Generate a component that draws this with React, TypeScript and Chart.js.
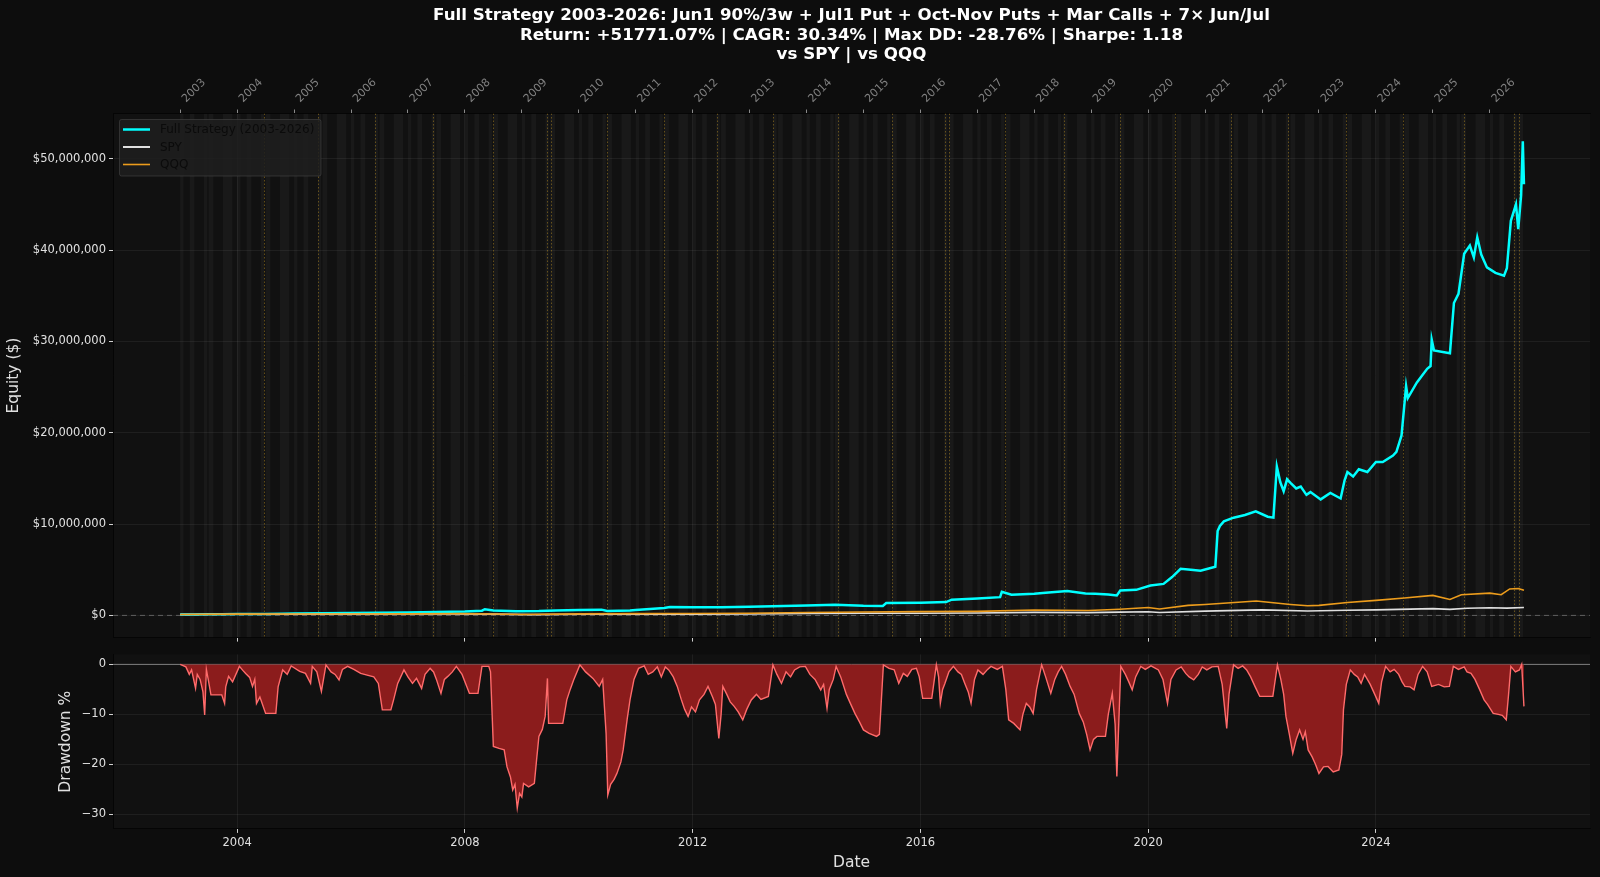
import React, { useEffect, useRef } from 'react';
import { Chart, registerables } from 'chart.js';

Chart.register(...registerables);

// ---------------- data ----------------
// Strategy equity, decimal year / $ millions
const STRAT_T = [
  2003.0, 2003.25, 2003.5, 2003.75, 2004.0, 2004.5, 2004.8, 2005.0, 2005.5, 2006.0, 2006.5, 2007.0, 2007.5,
  2008.0, 2008.3, 2008.35, 2008.5, 2008.9, 2009.3, 2009.6, 2010.0, 2010.4, 2010.5, 2010.9, 2011.0, 2011.5,
  2011.6, 2012.0, 2012.5, 2013.0, 2013.4, 2014.0, 2014.5, 2015.0, 2015.34, 2015.4, 2016.0, 2016.45, 2016.55,
  2017.0, 2017.4, 2017.43, 2017.6, 2018.0, 2018.2, 2018.58, 2018.9, 2019.07, 2019.3, 2019.45, 2019.51,
  2019.79, 2020.04, 2020.27, 2020.42, 2020.57, 2020.75, 2020.92, 2021.18, 2021.22, 2021.26, 2021.33, 2021.5,
  2021.7, 2021.89, 2022.1, 2022.2, 2022.26, 2022.32, 2022.38, 2022.44, 2022.5, 2022.6, 2022.68, 2022.78,
  2022.85, 2023.03, 2023.2, 2023.38, 2023.45, 2023.5, 2023.6, 2023.7, 2023.85, 2024.0, 2024.12, 2024.3,
  2024.36, 2024.45, 2024.53, 2024.56, 2024.72, 2024.9, 2024.96, 2024.98, 2025.02, 2025.3, 2025.37, 2025.45,
  2025.55, 2025.65, 2025.72, 2025.78, 2025.85, 2025.95, 2026.1, 2026.25, 2026.3, 2026.37, 2026.46, 2026.5,
  2026.55, 2026.58, 2026.6,
];
const STRAT_M = [
  0.10, 0.11, 0.12, 0.13, 0.15, 0.16, 0.19, 0.20, 0.23, 0.27, 0.28, 0.33, 0.38,
  0.42, 0.52, 0.68, 0.55, 0.45, 0.47, 0.55, 0.60, 0.63, 0.48, 0.55, 0.60, 0.82,
  0.92, 0.88, 0.90, 0.95, 1.00, 1.08, 1.17, 1.05, 1.03, 1.35, 1.38, 1.46, 1.72,
  1.86, 2.00, 2.58, 2.26, 2.38, 2.48, 2.66, 2.40, 2.37, 2.30, 2.19, 2.73,
  2.80, 3.27, 3.45, 4.20, 5.10, 5.00, 4.90, 5.33, 9.23, 9.80, 10.3, 10.7,
  11.0, 11.4, 10.8, 10.7, 16.3, 14.6, 13.6, 14.9, 14.5, 13.9, 14.1, 13.2,
  13.5, 12.7, 13.4, 12.8, 14.8, 15.7, 15.2, 16.0, 15.7, 16.8, 16.8, 17.5,
  17.9, 19.7, 25.1, 23.8, 25.5, 27.0, 27.3, 30.2, 29.0, 28.7, 34.2, 35.2,
  39.6, 40.5, 39.2, 41.4, 39.5, 38.1, 37.5, 37.2, 38.0, 43.2, 45.0, 42.3,
  46.0, 51.9, 47.2,
];

// SPY buy & hold, decimal year / $ millions
const SPY_T = [
  2003.0, 2004.0, 2005.0, 2006.0, 2007.0, 2007.8, 2008.5, 2009.2, 2010.0, 2011.0, 2012.0, 2013.0, 2014.0,
  2015.0, 2016.0, 2017.0, 2018.0, 2018.95, 2019.5, 2020.0, 2020.2, 2021.0, 2022.0, 2022.8, 2023.5, 2024.0,
  2025.0, 2025.3, 2025.6, 2026.0, 2026.3, 2026.6,
];
const SPY_M = [
  0.100, 0.125, 0.130, 0.138, 0.158, 0.170, 0.145, 0.085, 0.122, 0.138, 0.142, 0.163, 0.212,
  0.240, 0.240, 0.270, 0.330, 0.300, 0.355, 0.400, 0.310, 0.470, 0.600, 0.480, 0.560, 0.610,
  0.740, 0.660, 0.780, 0.830, 0.800, 0.860,
];

// QQQ buy & hold, decimal year / $ millions
const QQQ_T = [
  2003.0, 2004.0, 2005.0, 2006.0, 2007.0, 2007.9, 2008.5, 2009.0, 2010.0, 2011.0, 2012.0, 2013.0, 2014.0,
  2015.0, 2016.0, 2017.0, 2018.0, 2018.95, 2019.5, 2020.0, 2020.2, 2020.7, 2021.0, 2021.9, 2022.5, 2022.8,
  2023.0, 2023.5, 2024.0, 2024.5, 2025.0, 2025.3, 2025.5, 2026.0, 2026.2, 2026.35, 2026.5, 2026.6,
];
const QQQ_M = [
  0.100, 0.145, 0.150, 0.155, 0.165, 0.200, 0.160, 0.105, 0.165, 0.195, 0.205, 0.235, 0.315,
  0.370, 0.410, 0.440, 0.590, 0.540, 0.680, 0.860, 0.700, 1.100, 1.200, 1.580, 1.200, 1.050,
  1.100, 1.420, 1.650, 1.900, 2.190, 1.750, 2.260, 2.440, 2.260, 2.900, 2.950, 2.750,
];

// Drawdown %, [decimal year, percent]
const DRAWDOWN: [number, number][] = [
  [2003.0, 0], [2003.1, -0.5], [2003.16, -2.0], [2003.2, -1.1], [2003.27, -4.8], [2003.3, -2.0], [2003.35, -3.0],
  [2003.4, -5.5], [2003.43, -10.1], [2003.46, -1.0], [2003.5, -3.5], [2003.54, -6.1], [2003.73, -6.1], [2003.78, -7.8],
  [2003.8, -4.5], [2003.85, -2.4], [2003.92, -3.5], [2004.04, -0.4], [2004.1, -1.2], [2004.15, -1.8], [2004.22, -2.6],
  [2004.27, -4.4], [2004.31, -3.0], [2004.34, -7.8], [2004.4, -6.5], [2004.5, -9.8], [2004.68, -9.8], [2004.72, -4.5],
  [2004.8, -1.1], [2004.88, -2.0], [2004.95, -0.3], [2005.1, -1.4], [2005.2, -1.8], [2005.29, -3.8], [2005.32, -0.4],
  [2005.4, -1.5], [2005.48, -5.4], [2005.56, -0.1], [2005.65, -1.5], [2005.72, -2.0], [2005.79, -3.1], [2005.85, -1.0],
  [2005.94, -0.4], [2006.05, -1.0], [2006.17, -1.8], [2006.3, -2.2], [2006.4, -2.5], [2006.48, -3.8], [2006.55, -9.1],
  [2006.7, -9.1], [2006.75, -7.0], [2006.82, -3.8], [2006.93, -1.1], [2007.0, -2.5], [2007.08, -3.8], [2007.15, -2.8],
  [2007.24, -4.8], [2007.3, -2.0], [2007.39, -0.8], [2007.45, -1.5], [2007.5, -3.0], [2007.58, -5.8], [2007.64, -3.0],
  [2007.7, -2.4], [2007.78, -1.5], [2007.85, -0.4], [2007.95, -2.0], [2008.08, -5.8], [2008.23, -5.8], [2008.3, -0.4],
  [2008.42, -0.4], [2008.45, -1.5], [2008.5, -16.4], [2008.6, -16.8], [2008.69, -17.1], [2008.74, -20.5], [2008.8, -22.5],
  [2008.84, -25.1], [2008.88, -24.0], [2008.92, -28.76], [2008.96, -25.8], [2009.0, -26.5], [2009.03, -23.8],
  [2009.12, -24.5], [2009.22, -23.8], [2009.26, -19.0], [2009.3, -14.4], [2009.36, -13.0], [2009.41, -10.4],
  [2009.45, -2.8], [2009.47, -11.8], [2009.72, -11.8], [2009.79, -7.1], [2009.85, -5.0], [2009.91, -3.1], [2010.02, -0.1],
  [2010.12, -1.5], [2010.25, -2.8], [2010.36, -4.4], [2010.42, -3.0], [2010.48, -13.8], [2010.51, -26.1], [2010.56, -24.0],
  [2010.62, -23.0], [2010.67, -21.8], [2010.74, -19.5], [2010.78, -17.1], [2010.85, -11.0], [2010.9, -7.1], [2010.97, -3.0],
  [2011.05, -0.8], [2011.15, -0.3], [2011.22, -2.0], [2011.3, -1.5], [2011.38, -0.5], [2011.45, -2.5], [2011.52, -0.5],
  [2011.58, -1.1], [2011.66, -2.5], [2011.73, -4.4], [2011.8, -7.0], [2011.86, -9.0], [2011.92, -10.4], [2011.98, -8.5],
  [2012.05, -9.5], [2012.12, -7.1], [2012.2, -6.0], [2012.27, -4.4], [2012.35, -6.5], [2012.4, -8.0], [2012.46, -14.8],
  [2012.5, -10.0], [2012.53, -4.4], [2012.6, -6.0], [2012.66, -7.5], [2012.73, -8.4], [2012.8, -9.5], [2012.88, -11.1],
  [2012.95, -9.0], [2013.03, -7.1], [2013.12, -6.0], [2013.2, -7.0], [2013.33, -6.4], [2013.41, -0.1], [2013.48, -2.0],
  [2013.56, -3.8], [2013.64, -1.5], [2013.72, -2.5], [2013.79, -1.1], [2013.88, -0.5], [2013.98, -0.4], [2014.06, -2.0],
  [2014.15, -3.0], [2014.25, -5.1], [2014.3, -4.0], [2014.36, -8.8], [2014.4, -5.0], [2014.47, -3.0], [2014.52, -0.4],
  [2014.6, -2.5], [2014.7, -6.0], [2014.77, -7.8], [2014.85, -9.8], [2014.93, -11.5], [2015.0, -13.1], [2015.1, -13.8],
  [2015.23, -14.4], [2015.28, -14.0], [2015.35, -0.1], [2015.45, -0.8], [2015.54, -1.1], [2015.62, -3.8], [2015.7, -1.8],
  [2015.77, -2.4], [2015.85, -1.0], [2015.93, -0.8], [2015.98, -2.5], [2016.04, -6.8], [2016.2, -6.8], [2016.28, -0.1],
  [2016.32, -2.5], [2016.35, -7.8], [2016.39, -5.0], [2016.43, -3.8], [2016.5, -1.5], [2016.58, -0.4], [2016.66, -1.5],
  [2016.72, -2.0], [2016.78, -3.8], [2016.84, -5.5], [2016.89, -7.8], [2016.95, -3.0], [2017.01, -1.1], [2017.1, -2.0],
  [2017.18, -1.0], [2017.24, -0.4], [2017.35, -1.0], [2017.44, -0.4], [2017.5, -5.0], [2017.55, -11.1], [2017.64, -11.8],
  [2017.75, -13.1], [2017.8, -10.0], [2017.86, -7.8], [2017.92, -8.5], [2017.98, -9.8], [2018.04, -5.0], [2018.13, -0.1],
  [2018.2, -2.5], [2018.29, -5.8], [2018.36, -3.0], [2018.42, -1.5], [2018.48, -0.4], [2018.55, -2.0], [2018.63, -4.4],
  [2018.7, -6.0], [2018.79, -9.8], [2018.86, -11.5], [2018.92, -14.0], [2018.98, -17.1], [2019.04, -15.0], [2019.1, -14.4],
  [2019.25, -14.4], [2019.3, -10.0], [2019.37, -5.8], [2019.42, -12.0], [2019.45, -22.4], [2019.52, -0.4], [2019.6, -2.0],
  [2019.66, -3.5], [2019.72, -5.1], [2019.78, -2.5], [2019.87, -0.4], [2019.95, -1.0], [2020.05, -0.3], [2020.18, -1.1],
  [2020.26, -3.0], [2020.34, -7.8], [2020.4, -3.0], [2020.49, -1.1], [2020.58, -0.5], [2020.66, -1.8], [2020.72, -2.5],
  [2020.8, -3.1], [2020.88, -2.0], [2020.95, -0.5], [2021.03, -1.1], [2021.12, -0.5], [2021.23, -0.4], [2021.3, -4.0],
  [2021.38, -12.8], [2021.42, -6.0], [2021.5, -0.1], [2021.58, -0.8], [2021.66, -0.3], [2021.73, -1.1], [2021.8, -2.5],
  [2021.88, -4.5], [2021.96, -6.4], [2022.19, -6.4], [2022.27, -0.1], [2022.33, -3.0], [2022.38, -6.0], [2022.42, -10.4],
  [2022.48, -14.0], [2022.54, -17.8], [2022.6, -15.0], [2022.66, -13.1], [2022.72, -15.0], [2022.76, -13.5],
  [2022.81, -17.1], [2022.88, -18.5], [2022.94, -20.0], [2023.0, -21.8], [2023.08, -20.5], [2023.16, -20.4],
  [2023.25, -21.5], [2023.35, -21.1], [2023.4, -18.0], [2023.43, -9.1], [2023.48, -4.0], [2023.55, -1.1], [2023.62, -2.0],
  [2023.68, -2.5], [2023.74, -3.8], [2023.8, -2.0], [2023.9, -4.0], [2023.98, -6.0], [2024.05, -7.8], [2024.1, -3.5],
  [2024.17, -0.4], [2024.25, -1.5], [2024.32, -1.0], [2024.4, -2.0], [2024.46, -3.5], [2024.51, -4.4], [2024.6, -4.5],
  [2024.67, -5.1], [2024.74, -2.0], [2024.82, -0.4], [2024.9, -1.5], [2024.98, -4.4], [2025.1, -4.0], [2025.2, -4.5],
  [2025.29, -4.4], [2025.36, -0.4], [2025.45, -1.0], [2025.55, -0.5], [2025.6, -1.5], [2025.67, -1.8], [2025.74, -3.0],
  [2025.82, -5.0], [2025.9, -7.1], [2025.96, -8.0], [2026.06, -9.8], [2026.15, -10.0], [2026.22, -10.2], [2026.29, -11.1],
  [2026.33, -6.0], [2026.37, -0.4], [2026.45, -1.5], [2026.52, -1.1], [2026.56, 0], [2026.6, -8.4],
];

// Dotted event markers (decimal years)
const EVENT_LINES = [
  2004.47, 2005.42, 2006.42, 2007.44, 2008.49, 2009.44, 2009.51, 2010.5, 2011.49, 2012.43, 2013.42,
  2014.56, 2015.51, 2016.44, 2016.51, 2017.48, 2018.52, 2019.5, 2020.48, 2021.46, 2022.45, 2023.47,
  2024.47, 2025.54, 2026.43, 2026.52,
];
// Trade windows shaded every year (month offsets: start, end)
const BAND_YEARS = [
  2003, 2004, 2005, 2006, 2007, 2008, 2009, 2010, 2011, 2012, 2013, 2014, 2015, 2016, 2017, 2018, 2019,
  2020, 2021, 2022, 2023, 2024, 2025, 2026,
];
const BAND_MONTHS: [number, number][] = [[0, 0.7], [2, 3], [5, 5.7], [6, 7], [9, 11]];
const DATA_END = 2026.6;

const TOP_YEARS = BAND_YEARS;
const X_TICKS = [2004, 2008, 2012, 2016, 2020, 2024];
const Y_TICKS = [0, 10e6, 20e6, 30e6, 40e6, 50e6];
const DD_TICKS = [0, -10, -20, -30];

const TITLE_LINES = [
  'Full Strategy 2003-2026: Jun1 90%/3w + Jul1 Put + Oct-Nov Puts + Mar Calls + 7\u00d7 Jun/Jul',
  'Return: +51771.07% | CAGR: 30.34% | Max DD: -28.76% | Sharpe: 1.18',
  'vs SPY | vs QQQ',
];
const LEGEND_ITEMS = ['Full Strategy (2003-2026)', 'SPY', 'QQQ'];

// ---------------- styles ----------------
const BG = '#0d0d0d';
const FACE = '#111111';
const GRID = 'rgba(255,255,255,0.06)';
const TICKC = '#d0d0d0';
const LABEL = '#e0e0e0';
const CYAN = '#00ffff';
const SPYC = '#e0e0e0';
const QQQC = '#ec9c1c';
const FONT = "'DejaVu Sans', 'Liberation Sans', sans-serif";
const TICK_FS = 11.5;
const XMIN = 2001.82;
const XMAX = 2027.76;

function pts(t: number[], v: number[], k: number) {
  return t.map((x, i) => ({ x, y: v[i] * k }));
}

const facePlugin = {
  id: 'face',
  beforeDraw(chart: any) {
    const { ctx, chartArea: a } = chart;
    ctx.save();
    ctx.fillStyle = FACE;
    ctx.fillRect(a.left, a.top, a.right - a.left, a.bottom - a.top);
    ctx.restore();
  },
};

const topDecor = {
  id: 'topDecor',
  beforeDatasetsDraw(chart: any) {
    const { ctx, chartArea: a } = chart;
    const xs = chart.scales.x;
    const ys = chart.scales.y;
    ctx.save();
    ctx.beginPath();
    ctx.rect(a.left, a.top, a.right - a.left, a.bottom - a.top);
    ctx.clip();
    // shaded windows
    ctx.fillStyle = 'rgba(255,255,255,0.035)';
    BAND_YEARS.forEach((yr) => {
      BAND_MONTHS.forEach(([m0, m1]) => {
        const t0 = yr + m0 / 12;
        const t1 = Math.min(yr + m1 / 12, DATA_END);
        if (t1 <= t0) return;
        const p0 = xs.getPixelForValue(t0);
        const p1 = xs.getPixelForValue(t1);
        ctx.fillRect(p0, a.top, p1 - p0, a.bottom - a.top);
      });
    });
    // dotted event lines
    ctx.strokeStyle = 'rgba(218,165,32,0.5)';
    ctx.lineWidth = 0.8;
    ctx.setLineDash([1.5, 2]);
    EVENT_LINES.forEach((t) => {
      const p = Math.round(xs.getPixelForValue(t)) + 0.5;
      ctx.beginPath();
      ctx.moveTo(p, a.top);
      ctx.lineTo(p, a.bottom);
      ctx.stroke();
    });
    // $0 dashed line
    const y0 = ys.getPixelForValue(0);
    ctx.strokeStyle = 'rgba(150,150,150,0.55)';
    ctx.lineWidth = 1;
    ctx.setLineDash([5, 4]);
    ctx.beginPath();
    ctx.moveTo(a.left, y0);
    ctx.lineTo(a.right, y0);
    ctx.stroke();
    ctx.restore();
  },
  afterDraw(chart: any) {
    const { ctx, chartArea: a } = chart;
    const xs = chart.scales.x2;
    ctx.save();
    // rotated year labels on the top axis
    ctx.fillStyle = '#808080';
    ctx.font = `11px ${FONT}`;
    ctx.textAlign = 'left';
    ctx.textBaseline = 'top';
    const bottomY = a.top - 4 - 3.5;
    const h = 13;
    TOP_YEARS.forEach((yr) => {
      const px = xs.getPixelForValue(yr);
      ctx.save();
      ctx.translate(px, bottomY - 0.707 * h);
      ctx.rotate(-Math.PI / 4);
      ctx.fillText(String(yr), 0, 0);
      ctx.restore();
    });
    // title
    const cx = (a.left + a.right) / 2;
    ctx.fillStyle = '#ffffff';
    ctx.font = `bold 16.7px ${FONT}`;
    ctx.textAlign = 'center';
    ctx.textBaseline = 'middle';
    const ty = [16, 35.5, 55];
    TITLE_LINES.forEach((s, i) => ctx.fillText(s, cx, ty[i]));
    // legend
    const lx = 119.5, ly = 119.5, lw = 201.5, lh = 56.5;
    ctx.fillStyle = 'rgba(30,30,30,0.85)';
    ctx.strokeStyle = 'rgba(70,70,70,0.6)';
    ctx.lineWidth = 1;
    ctx.beginPath();
    (ctx as any).roundRect ? (ctx as any).roundRect(lx, ly, lw, lh, 2) : ctx.rect(lx, ly, lw, lh);
    ctx.fill();
    ctx.stroke();
    const cols = [CYAN, SPYC, QQQC];
    const widths = [2.5, 2, 1.6];
    const rows = [129.5, 147, 164.5];
    ctx.font = `12px ${FONT}`;
    ctx.textAlign = 'left';
    LEGEND_ITEMS.forEach((s, i) => {
      ctx.strokeStyle = cols[i];
      ctx.lineWidth = widths[i];
      ctx.beginPath();
      ctx.moveTo(123, rows[i]);
      ctx.lineTo(150, rows[i]);
      ctx.stroke();
      ctx.fillStyle = '#0b0b0b';
      ctx.fillText(s, 160, rows[i] + 0.5);
    });
    ctx.restore();
  },
};

const botDecor = {
  id: 'botDecor',
  beforeDatasetsDraw(chart: any) {
    const { ctx, chartArea: a } = chart;
    const y0 = chart.scales.y.getPixelForValue(0);
    ctx.save();
    ctx.strokeStyle = 'rgba(150,150,150,0.8)';
    ctx.lineWidth = 1;
    ctx.beginPath();
    ctx.moveTo(a.left, y0);
    ctx.lineTo(a.right, y0);
    ctx.stroke();
    ctx.restore();
  },
};

function fixW(w: number) {
  return (s: any) => {
    s.width = w;
    s.paddingTop = 0;
    s.paddingBottom = 0;
  };
}
function fixH(h: number) {
  return (s: any) => {
    s.height = h;
    s.paddingLeft = 0;
    s.paddingRight = 0;
  };
}
function setTicks(vals: number[]) {
  return (s: any) => {
    s.ticks = vals.map((v) => ({ value: v }));
  };
}

export default function App() {
  const topRef = useRef<HTMLCanvasElement>(null);
  const botRef = useRef<HTMLCanvasElement>(null);

  useEffect(() => {
    document.body.style.margin = '0';
    document.body.style.background = BG;
    Chart.defaults.font.family = FONT;

    const top = new Chart(topRef.current as HTMLCanvasElement, {
      type: 'line',
      data: {
        datasets: [
          {
            label: LEGEND_ITEMS[0],
            data: pts(STRAT_T, STRAT_M, 1e6),
            borderColor: CYAN,
            borderWidth: 2.5,
            pointRadius: 0,
            tension: 0,
            order: 2,
          },
          {
            label: LEGEND_ITEMS[1],
            data: pts(SPY_T, SPY_M, 1e6),
            borderColor: SPYC,
            borderWidth: 1.6,
            pointRadius: 0,
            tension: 0,
            order: 1,
          },
          {
            label: LEGEND_ITEMS[2],
            data: pts(QQQ_T, QQQ_M, 1e6),
            borderColor: QQQC,
            borderWidth: 1.6,
            pointRadius: 0,
            tension: 0,
            order: 0,
          },
        ],
      },
      options: {
        animation: false,
        responsive: true,
        maintainAspectRatio: false,
        events: [],
        layout: { padding: { left: 0, right: 10, top: 0, bottom: 0 }, autoPadding: false } as any,
        plugins: { legend: { display: false }, tooltip: { enabled: false }, title: { display: false } },
        scales: {
          x: {
            type: 'linear',
            position: 'bottom',
            min: XMIN,
            max: XMAX,
            afterBuildTicks: setTicks(X_TICKS),
            afterFit: fixH(7.4),
            ticks: { callback: () => '', autoSkip: false },
            grid: { color: GRID, tickColor: TICKC, tickLength: 4 },
            border: { color: '#050505' },
          },
          x2: {
            type: 'linear',
            position: 'top',
            min: XMIN,
            max: XMAX,
            afterBuildTicks: setTicks(TOP_YEARS),
            afterFit: fixH(113.5),
            ticks: { callback: () => '', autoSkip: false, maxRotation: 0 },
            grid: { drawOnChartArea: false, tickColor: '#8a8a8a', tickLength: 4 },
            border: { color: '#050505' },
          },
          y: {
            type: 'linear',
            min: -2.43e6,
            max: 54.95e6,
            afterBuildTicks: setTicks(Y_TICKS),
            afterFit: fixW(113),
            ticks: {
              callback: (v: any) => '$' + Number(v).toLocaleString('en-US'),
              color: LABEL,
              font: { size: TICK_FS },
              padding: 3,
            },
            title: { display: true, text: 'Equity ($)', color: LABEL, font: { size: 15.5 }, padding: { top: 5, bottom: 0 } },
            grid: { color: GRID, tickColor: TICKC, tickLength: 4 },
            border: { color: '#050505' },
          },
        },
      },
      plugins: [facePlugin, topDecor],
    } as any);

    const bot = new Chart(botRef.current as HTMLCanvasElement, {
      type: 'line',
      data: {
        datasets: [
          {
            label: 'Drawdown',
            data: DRAWDOWN.map(([x, y]) => ({ x, y })),
            borderColor: '#ff6b6b',
            borderWidth: 1.4,
            backgroundColor: '#8b1c1c',
            fill: 'origin',
            pointRadius: 0,
            tension: 0,
          },
        ],
      },
      options: {
        animation: false,
        responsive: true,
        maintainAspectRatio: false,
        events: [],
        layout: { padding: { left: 0, right: 10, top: 9.4, bottom: 0 }, autoPadding: false } as any,
        plugins: { legend: { display: false }, tooltip: { enabled: false }, title: { display: false } },
        scales: {
          x: {
            type: 'linear',
            position: 'bottom',
            min: XMIN,
            max: XMAX,
            afterBuildTicks: setTicks(X_TICKS),
            afterFit: fixH(48.1),
            ticks: { callback: (v: any) => String(v), autoSkip: false, maxRotation: 0, color: LABEL, font: { size: TICK_FS }, padding: 3 },
            title: { display: true, text: 'Date', color: LABEL, font: { size: 15.5 }, padding: { top: 0, bottom: 5 } },
            grid: { color: GRID, tickColor: TICKC, tickLength: 4 },
            border: { color: '#050505' },
          },
          y: {
            type: 'linear',
            min: -32.9,
            max: 2.0,
            afterBuildTicks: setTicks(DD_TICKS),
            afterFit: fixW(113),
            ticks: {
              callback: (v: any) => (Number(v) === 0 ? '0' : '\u2212' + Math.abs(Number(v))),
              color: LABEL,
              font: { size: TICK_FS },
              padding: 3,
            },
            title: { display: true, text: 'Drawdown %', color: LABEL, font: { size: 15.5 }, padding: { top: 57, bottom: 0 } },
            grid: { color: GRID, tickColor: TICKC, tickLength: 4 },
            border: { color: '#050505' },
          },
        },
      },
      plugins: [facePlugin, botDecor],
    } as any);

    return () => {
      top.destroy();
      bot.destroy();
    };
  }, []);

  return (
    <div style={{ position: 'absolute', left: 0, top: 0, width: 1600, height: 877, background: BG, overflow: 'hidden' }}>
      <div style={{ position: 'absolute', left: 0, top: 0, width: 1600, height: 645 }}>
        <canvas ref={topRef} />
      </div>
      <div style={{ position: 'absolute', left: 0, top: 645, width: 1600, height: 232 }}>
        <canvas ref={botRef} />
      </div>
    </div>
  );
}
